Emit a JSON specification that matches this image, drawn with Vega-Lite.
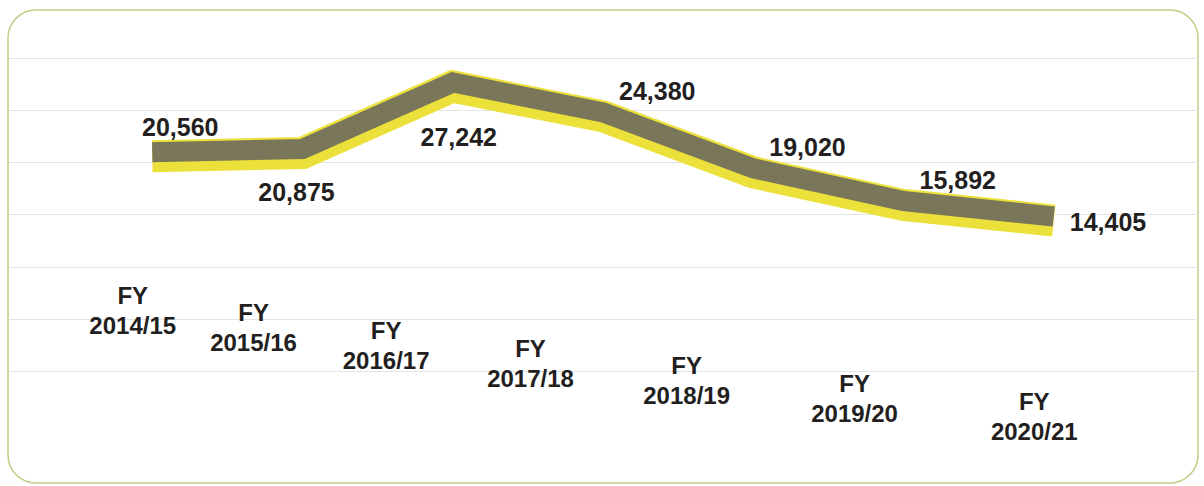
{
  "$schema": "https://vega.github.io/schema/vega-lite/v6.json",
  "width": 1190,
  "height": 473,
  "autosize": {"type": "none"},
  "padding": {"left": 8, "top": 10, "right": 6, "bottom": 3},
  "background": "white",
  "config": {
    "view": {"stroke": "#c2cc84", "strokeWidth": 1.5, "cornerRadius": 28},
    "font": "Liberation Sans"
  },
  "data": {
    "values": [
      {"year": "FY 2014/15", "value": 20560},
      {"year": "FY 2015/16", "value": 20875},
      {"year": "FY 2016/17", "value": 27242},
      {"year": "FY 2017/18", "value": 24380},
      {"year": "FY 2018/19", "value": 19020},
      {"year": "FY 2019/20", "value": 15892},
      {"year": "FY 2020/21", "value": 14405}
    ]
  },
  "encoding": {
    "x": {
      "field": "year",
      "type": "ordinal",
      "sort": null,
      "scale": {"type": "point", "padding": 0.96},
      "axis": {
        "title": null,
        "domain": false,
        "ticks": false,
        "grid": false,
        "labelAngle": 0,
        "labelExpr": "split(datum.label, ' ')",
        "labelFont": "Liberation Sans",
        "labelFontSize": 24,
        "labelFontWeight": "bold",
        "labelColor": "#231f20",
        "labelLineHeight": 30,
        "labelBaseline": "top",
        "labelAlign": "center",
        "labelPadding": {"expr": "-199 + 106*datum.index"},
        "labelOffset": {"expr": "-20 - 212*datum.index*(1-datum.index)"},
        "labelOverlap": false
      }
    },
    "y": {
      "field": "value",
      "type": "quantitative",
      "scale": {"domain": [-10724, 34565], "nice": false, "zero": false},
      "axis": {
        "title": null,
        "labels": false,
        "ticks": false,
        "domain": false,
        "grid": true,
        "values": [0, 5000, 10000, 15000, 20000, 25000, 30000],
        "gridColor": "#e4e4e4",
        "gridWidth": 1
      }
    }
  },
  "layer": [
    {"mark": {"type": "line", "color": "#ece03a", "strokeWidth": 32, "strokeJoin": "miter", "strokeCap": "butt"}},
    {"mark": {"type": "line", "color": "#7a7659", "strokeWidth": 20, "yOffset": -4, "strokeJoin": "miter", "strokeCap": "butt"}},
    {
      "transform": [{"filter": {"field": "year", "oneOf": ["FY 2014/15"]}}],
      "mark": {"type": "text", "align": "center", "baseline": "middle", "dx": 28, "dy": -28, "fontSize": 25, "fontWeight": "bold", "color": "#231f20"},
      "encoding": {"text": {"field": "value", "type": "quantitative", "format": ","}}
    },
    {
      "transform": [{"filter": {"field": "year", "oneOf": ["FY 2015/16"]}}],
      "mark": {"type": "text", "align": "center", "baseline": "middle", "dx": -6, "dy": 40, "fontSize": 25, "fontWeight": "bold", "color": "#231f20"},
      "encoding": {"text": {"field": "value", "type": "quantitative", "format": ","}}
    },
    {
      "transform": [{"filter": {"field": "year", "oneOf": ["FY 2016/17"]}}],
      "mark": {"type": "text", "align": "center", "baseline": "middle", "dx": 6, "dy": 52, "fontSize": 25, "fontWeight": "bold", "color": "#231f20"},
      "encoding": {"text": {"field": "value", "type": "quantitative", "format": ","}}
    },
    {
      "transform": [{"filter": {"field": "year", "oneOf": ["FY 2017/18", "FY 2018/19", "FY 2019/20"]}}],
      "mark": {"type": "text", "align": "left", "baseline": "middle", "dx": 16, "dy": -24, "fontSize": 25, "fontWeight": "bold", "color": "#231f20"},
      "encoding": {"text": {"field": "value", "type": "quantitative", "format": ","}}
    },
    {
      "transform": [{"filter": {"field": "year", "oneOf": ["FY 2020/21"]}}],
      "mark": {"type": "text", "align": "left", "baseline": "middle", "dx": 16, "dy": 2, "fontSize": 25, "fontWeight": "bold", "color": "#231f20"},
      "encoding": {"text": {"field": "value", "type": "quantitative", "format": ","}}
    }
  ]
}
